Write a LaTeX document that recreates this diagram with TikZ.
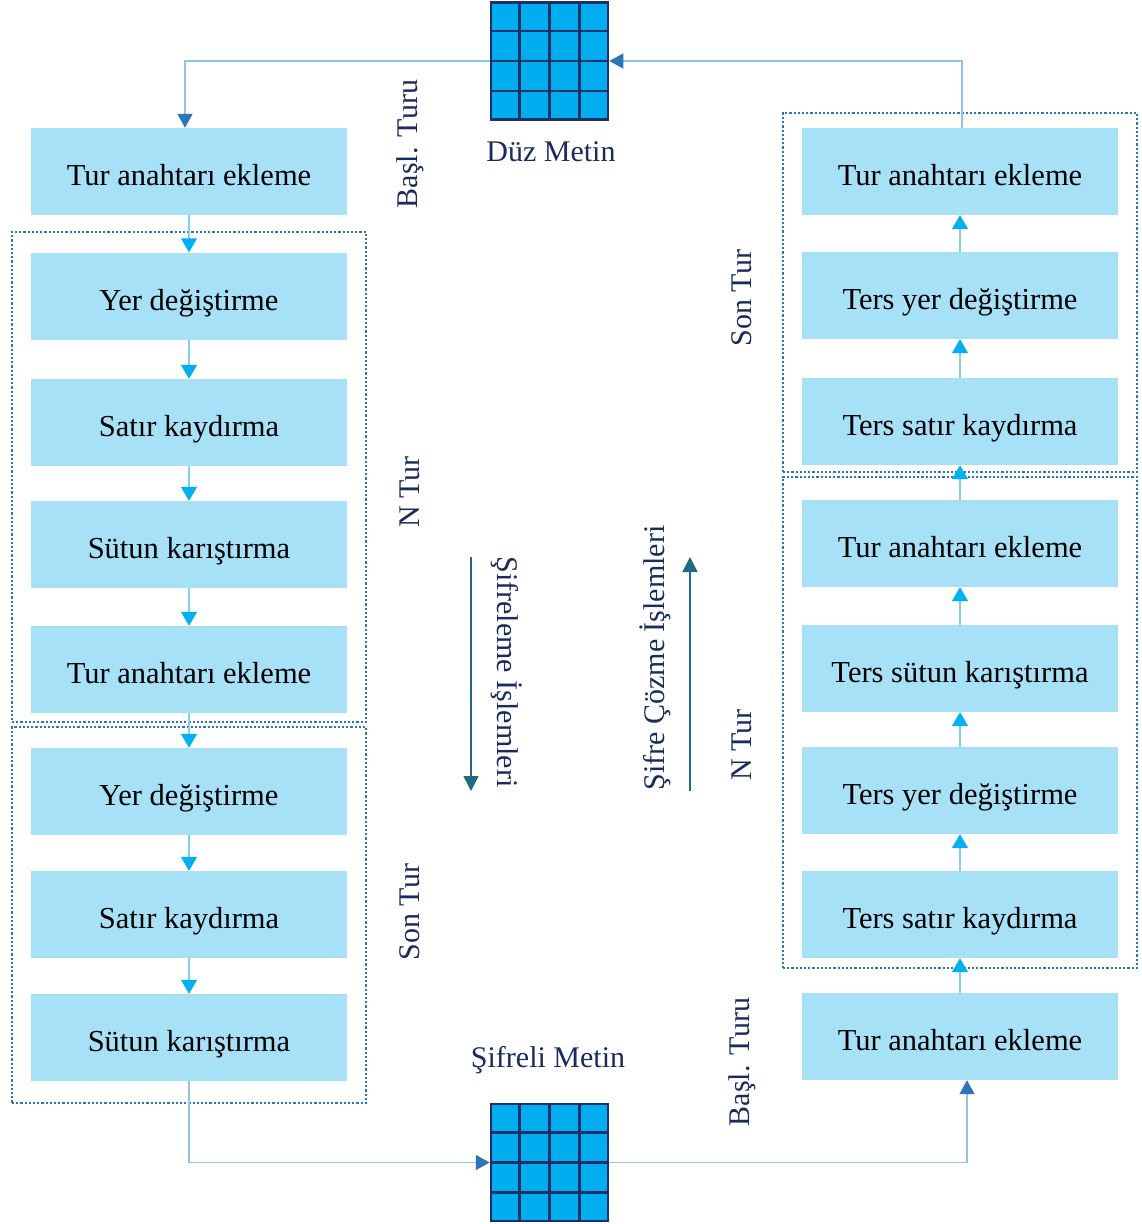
\documentclass[tikz,border=0pt]{standalone}
\usepackage{fontspec}
\setmainfont{Liberation Serif}
\usetikzlibrary{arrows.meta,calc}

\definecolor{boxfill}{HTML}{A6E1F8}
\definecolor{cellblue}{HTML}{00AEEF}
\definecolor{gridnavy}{HTML}{1B3068}
\definecolor{framedot}{HTML}{2E75B6}
\definecolor{stepline}{HTML}{7FD0F2}
\definecolor{stephead}{HTML}{00B0F0}
\definecolor{connline}{HTML}{8EC3EA}
\definecolor{connhead}{HTML}{2E75B6}
\definecolor{labelnavy}{HTML}{1A2C5E}
\definecolor{dirarrow}{HTML}{1F6A85}

\tikzset{
  opbox/.style={fill=boxfill, draw=none, minimum width=316pt, minimum height=87pt,
    inner sep=0pt, text height=30pt, text depth=2pt,
    font=\fontsize{30.5}{36}\selectfont, text=black},
  roundframe/.style={draw=framedot, line width=2.4pt, dash pattern=on 2.2pt off 2pt,
    minimum width=354pt, inner sep=0pt},
  flow/.style={draw=stepline, line width=1.4pt,
    -{Triangle[length=14pt,width=16pt,color=stephead]}},
  conn/.style={draw=connline, line width=1.4pt,
    -{Triangle[length=14pt,width=15pt,color=connhead]}},
  dirline/.style={draw=dirarrow, line width=1.6pt,
    -{Triangle[length=15pt,width=15pt,color=dirarrow]}},
  lbl/.style={text=labelnavy, font=\fontsize{30}{36}\selectfont, inner sep=0pt},
  blocktxt/.style={draw=gridnavy, line width=2.5pt, fill=cellblue,
    minimum size=117pt, inner sep=0pt},
}

\begin{document}
\begin{tikzpicture}[x=1pt, y=-1pt]
\fill[white] (0,0) rectangle (1142,1224);
\useasboundingbox (0,0) rectangle (1142,1224);

% round frames
\node[roundframe, minimum height=490pt] (lnr) at (189,477) {};
\node[roundframe, minimum height=376pt] (llr) at (189,915) {};
\node[roundframe, minimum height=359pt] (rlr) at (960,292.5) {};
\node[roundframe, minimum height=491pt] (rnr) at (960,722.5) {};

% encryption column
\node[opbox] (l1) at (189,171.5) {Tur anahtarı ekleme};
\node[opbox] (l2) at (189,296) {Yer değiştirme};
\node[opbox] (l3) at (189,422.5) {Satır kaydırma};
\node[opbox] (l4) at (189,544.5) {Sütun karıştırma};
\node[opbox] (l5) at (189,669.5) {Tur anahtarı ekleme};
\node[opbox] (l6) at (189,791.5) {Yer değiştirme};
\node[opbox] (l7) at (189,914.5) {Satır kaydırma};
\node[opbox] (l8) at (189,1037.5) {Sütun karıştırma};

% decryption column
\node[opbox] (r1) at (960,171.5) {Tur anahtarı ekleme};
\node[opbox] (r2) at (960,295.5) {Ters yer değiştirme};
\node[opbox] (r3) at (960,421.5) {Ters satır kaydırma};
\node[opbox] (r4) at (960,543.5) {Tur anahtarı ekleme};
\node[opbox] (r5) at (960,668.5) {Ters sütun karıştırma};
\node[opbox] (r6) at (960,790.5) {Ters yer değiştirme};
\node[opbox] (r7) at (960,914.5) {Ters satır kaydırma};
\node[opbox] (r8) at (960,1036.5) {Tur anahtarı ekleme};

% steps between operations
\foreach \a/\b in {l1/l2,l2/l3,l3/l4,l4/l5,l5/l6,l6/l7,l7/l8}
  \draw[flow] (\a.south) -- (\b.north);
\foreach \a/\b in {r8/r7,r7/r6,r6/r5,r5/r4,r4/r3,r3/r2,r2/r1}
  \draw[flow] (\a.north) -- (\b.south);

% 4x4 state blocks
\node[blocktxt] (plain) at (549.5,61) {};
\node[blocktxt] (cipher) at (549.5,1162.5) {};
\foreach \g in {plain,cipher}{
  \foreach \i in {1,2,3}{
    \draw[gridnavy, line width=2.5pt]
      ($(\g.north west)!\i/4!(\g.north east)$) -- ($(\g.south west)!\i/4!(\g.south east)$);
    \draw[gridnavy, line width=2.5pt]
      ($(\g.north west)!\i/4!(\g.south west)$) -- ($(\g.north east)!\i/4!(\g.south east)$);
  }
}
\node[lbl] (plaintxt) at (551,152) {Düz Metin};
\node[lbl] (ciphertxt) at (548,1060) {Şifreli Metin};

% outer connections
\draw[conn] ([xshift=2pt]r1.north) |- (plain.east);
\draw[conn] (plain.west) -| ([xshift=-4pt]l1.north);
\draw[conn] (l8.south) |- (cipher.west);
\draw[conn] (cipher.east) -| ([xshift=7pt]r8.south);

% round labels
\node[lbl, rotate=90] (lfirst) at (410,144) {Başl. Turu};
\node[lbl, rotate=90] (lmid) at (410,492) {N Tur};
\node[lbl, rotate=90] (llast) at (410,912) {Son Tur};
\node[lbl, rotate=90] (rlast) at (742,298) {Son Tur};
\node[lbl, rotate=90] (rmid) at (742,745) {N Tur};
\node[lbl, rotate=90] (rfirst) at (742,1062) {Başl. Turu};

% direction of processing
\coordinate (encA) at (471,557);
\coordinate (encB) at (471,791);
\coordinate (decA) at (690,791);
\coordinate (decB) at (690,557);
\draw[dirline] (encA) -- (encB);
\draw[dirline] (decA) -- (decB);
\node[lbl, rotate=-90] (enctxt) at (507,672) {Şifreleme İşlemleri};
\node[lbl, rotate=90] (dectxt) at (655,658) {Şifre Çözme İşlemleri};
\end{tikzpicture}
\end{document}
